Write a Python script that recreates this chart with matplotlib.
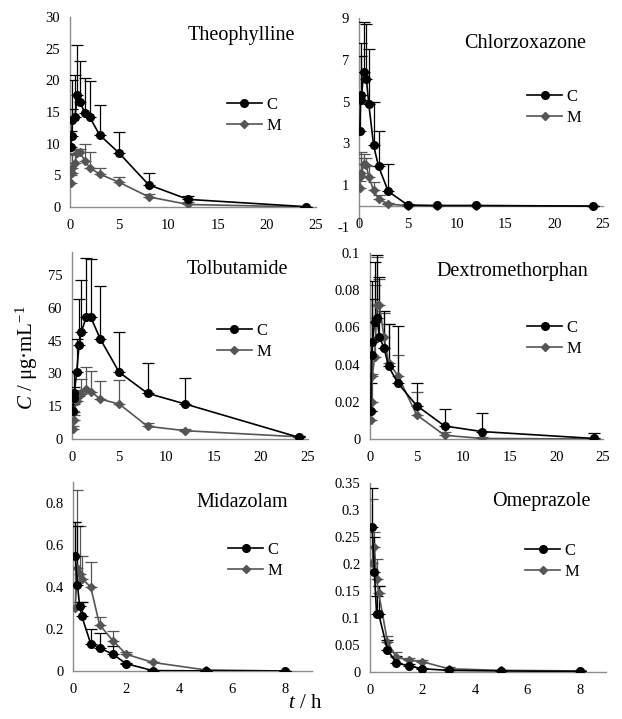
import matplotlib
matplotlib.use('Agg')
import matplotlib.pyplot as plt

plt.rcParams['font.family'] = ['Liberation Serif', 'DejaVu Serif']
plt.rcParams['mathtext.fontset'] = 'custom'
plt.rcParams['mathtext.rm'] = 'Liberation Serif'
plt.rcParams['mathtext.it'] = 'Liberation Serif:italic'

# sampling times (h)
t_long = [0.083, 0.167, 0.25, 0.5, 0.75, 1, 1.5, 2, 3, 5, 8, 12, 24]
t_short = [0.083, 0.167, 0.25, 0.333, 0.667, 1, 1.5, 2, 3, 5, 8]

# Theophylline
theo_c = [9.4, 11.2, 13.8, 14.2, 17.7, 16.6, 14.9, 14.2, 11.4, 8.5, 3.5, 1.2, 0.05]
theo_c_sd = [2.6, 4.3, 6.3, 6.7, 7.9, 6.5, 5.5, 5.7, 4.7, 3.4, 1.8, 0.5, 0]
theo_m = [3.8, 5.4, 6.1, 7.0, 8.5, 8.7, 7.3, 6.2, 5.2, 3.9, 1.6, 0.4, 0.0]
theo_m_sd = [1.2, 2.8, 2.2, 1.5, 0.6, 0.4, 2.6, 2.5, 0.9, 0.9, 0.5, 0.4, 0]

# Chlorzoxazone
chlor_c = [3.6, 5.1, 5.3, 6.4, 6.1, 4.9, 2.9, 1.9, 0.7, 0.05, 0.03, 0.03, 0.0]
chlor_c_sd = [1.7, 2.1, 2.5, 2.4, 2.6, 2.6, 2.1, 1.7, 1.3, 0.05, 0.02, 0.02, 0]
chlor_m = [0.85, 1.45, 1.6, 2.0, 1.95, 1.4, 0.75, 0.35, 0.1, 0.02, 0.01, 0.01, 0.0]
chlor_m_sd = [0.35, 0.85, 1.0, 0.5, 0.35, 0.5, 0.4, 0.2, 0.05, 0, 0, 0, 0]

# Tolbutamide
tolb_c = [13.0, 18.6, 20.9, 30.8, 43.0, 49.1, 55.6, 55.6, 45.7, 30.5, 20.9, 16.0, 0.8]
tolb_c_sd = [3.0, 5.4, 10.1, 14.7, 20.9, 23.6, 27.0, 26.6, 24.4, 18.6, 13.7, 12.0, 0.4]
tolb_m = [4.6, 8.5, 12.5, 17.2, 19.5, 20.8, 22.8, 21.7, 18.2, 16.0, 5.8, 3.8, 1.0]
tolb_m_sd = [1.4, 2.5, 3.5, 4.8, 2.9, 6.5, 10.0, 9.5, 8.2, 11.0, 1.7, 0.7, 0.5]

# Dextromethorphan
dex_c = [0.015, 0.045, 0.052, 0.063, 0.065, 0.055, 0.049, 0.039, 0.030, 0.018, 0.007, 0.004, 0.0003]
dex_c_sd = [0.015, 0.030, 0.033, 0.032, 0.034, 0.032, 0.020, 0.023, 0.031, 0.012, 0.009, 0.010, 0.0027]
dex_m = [0.010, 0.020, 0.034, 0.044, 0.072, 0.072, 0.055, 0.041, 0.034, 0.013, 0.002, 0.0003, 0.0]
dex_m_sd = [0.005, 0.015, 0.041, 0.039, 0.026, 0.014, 0.013, 0.021, 0.011, 0.012, 0.002, 0.0007, 0]

# Midazolam
mid_c = [0.55, 0.41, 0.31, 0.26, 0.13, 0.11, 0.08, 0.035, 0.002, 0.0005, 0.0]
mid_c_sd = [0.16, 0.28, 0.02, 0.07, 0.07, 0.07, 0.04, 0.005, 0.001, 0.0005, 0]
mid_m = [0.30, 0.49, 0.46, 0.44, 0.40, 0.22, 0.145, 0.08, 0.041, 0.005, 0.0]
mid_m_sd = [0.41, 0.37, 0.23, 0.11, 0.12, 0.035, 0.045, 0.01, 0.004, 0.001, 0]

# Omeprazole
ome_c = [0.268, 0.186, 0.108, 0.107, 0.041, 0.017, 0.011, 0.006, 0.003, 0.002, 0.001]
ome_c_sd = [0.072, 0.064, 0.032, 0.053, 0.019, 0.013, 0.004, 0.002, 0.001, 0, 0]
ome_m = [0.201, 0.232, 0.173, 0.146, 0.056, 0.027, 0.022, 0.019, 0.006, 0.003, 0.002]
ome_m_sd = [0.12, 0.028, 0.037, 0.014, 0.01, 0.01, 0.004, 0.003, 0.003, 0.001, 0.001]

W, H = 622, 719
fig = plt.figure(figsize=(W / 100, H / 100), dpi=100)

c_col = '#000000'
m_col = '#555555'
axis_col = '#8c8c8c'


def px_axes(l, t, r, b):
    return fig.add_axes([l / W, 1 - b / H, (r - l) / W, (b - t) / H])


def panel(box, t, c, c_sd, m, m_sd, name, xlim, ylim, yticks, xticks,
          title_xy, leg_xy):
    ax = px_axes(*box)
    # error bars (upper only)
    ax.errorbar(t, m, yerr=[[0] * len(m_sd), m_sd], fmt='none', ecolor=m_col,
                elinewidth=0.9, capsize=4, capthick=0.9, zorder=2)
    ax.errorbar(t, c, yerr=[[0] * len(c_sd), c_sd], fmt='none', ecolor=c_col,
                elinewidth=0.9, capsize=4, capthick=0.9, zorder=2)
    ax.plot(t, c, color=c_col, lw=1.2, marker='o', ms=5.5, label='C', zorder=4)
    ax.plot(t, m, color=m_col, lw=1.2, marker='D', ms=3.6, label='M', zorder=3)
    ax.set_xlim(*xlim)
    ax.set_ylim(*ylim)
    ax.set_yticks(yticks)
    ax.set_xticks(xticks)
    ax.set_yticklabels([f'{v:g}' for v in yticks])
    for s in ['top', 'right']:
        ax.spines[s].set_visible(False)
    for s in ['left', 'bottom']:
        ax.spines[s].set_color(axis_col)
        ax.spines[s].set_linewidth(1.0)
    if ylim[0] < 0:
        ax.spines['bottom'].set_position(('data', 0))
    ax.tick_params(axis='both', length=0, labelsize=10.5)
    ax.tick_params(axis='y', pad=7)
    ax.tick_params(axis='x', pad=8.5)
    ax.patch.set_alpha(0)
    for sp in ax.spines.values():
        sp.set_zorder(1)
    ax.text(title_xy[0], title_xy[1], name, transform=ax.transAxes,
            ha='right', va='center', fontsize=14.5)
    ax.legend(loc='center left', bbox_to_anchor=leg_xy, frameon=False,
              fontsize=12, handlelength=2.1, handletextpad=0.25,
              borderpad=0, borderaxespad=0, labelspacing=0.3)
    return ax


xt25 = [0, 5, 10, 15, 20, 25]
xt8 = [0, 2, 4, 6, 8]

panel((70, 17, 316, 207), t_long, theo_c, theo_c_sd, theo_m, theo_m_sd,
      'Theophylline', (0, 25), (0, 30), [0, 5, 10, 15, 20, 25, 30], xt25,
      (0.915, 0.905), (0.638, 0.484))
panel((359, 18, 603, 227), t_long, chlor_c, chlor_c_sd, chlor_m, chlor_m_sd,
      'Chlorzoxazone', (0, 25), (-1, 9), [-1, 1, 3, 5, 7, 9], xt25,
      (0.93, 0.88), (0.69, 0.574))
panel((72, 252, 308, 439), t_long, tolb_c, tolb_c_sd, tolb_m, tolb_m_sd,
      'Tolbutamide', (0, 25), (0, 85.5), [0, 15, 30, 45, 60, 75], xt25,
      (0.915, 0.904), (0.614, 0.524))
panel((370, 253, 603, 439), t_long, dex_c, dex_c_sd, dex_m, dex_m_sd,
      'Dextromethorphan', (0, 25), (0, 0.1), [0, 0.02, 0.04, 0.06, 0.08, 0.1], xt25,
      (0.936, 0.90), (0.674, 0.543))
panel((73, 482, 312, 671), t_short, mid_c, mid_c_sd, mid_m, mid_m_sd,
      'Midazolam', (0, 9), (0, 0.9), [0, 0.2, 0.4, 0.6, 0.8], xt8,
      (0.90, 0.894), (0.649, 0.587))
panel((370, 483, 606, 672), t_short, ome_c, ome_c_sd, ome_m, ome_m_sd,
      'Omeprazole', (0, 9), (0, 0.35), [0, 0.05, 0.1, 0.15, 0.2, 0.25, 0.3, 0.35], xt8,
      (0.936, 0.90), (0.657, 0.587))

fig.text(27 / W, 1 - 358 / H, r'$C$ / μg·mL$^{-1}$', rotation=90,
         ha='center', va='center', fontsize=15)
fig.text(305 / W, 1 - 703 / H, r'$t$ / h', ha='center', va='center', fontsize=15)

fig.savefig('out.png', dpi=100, facecolor='white')
